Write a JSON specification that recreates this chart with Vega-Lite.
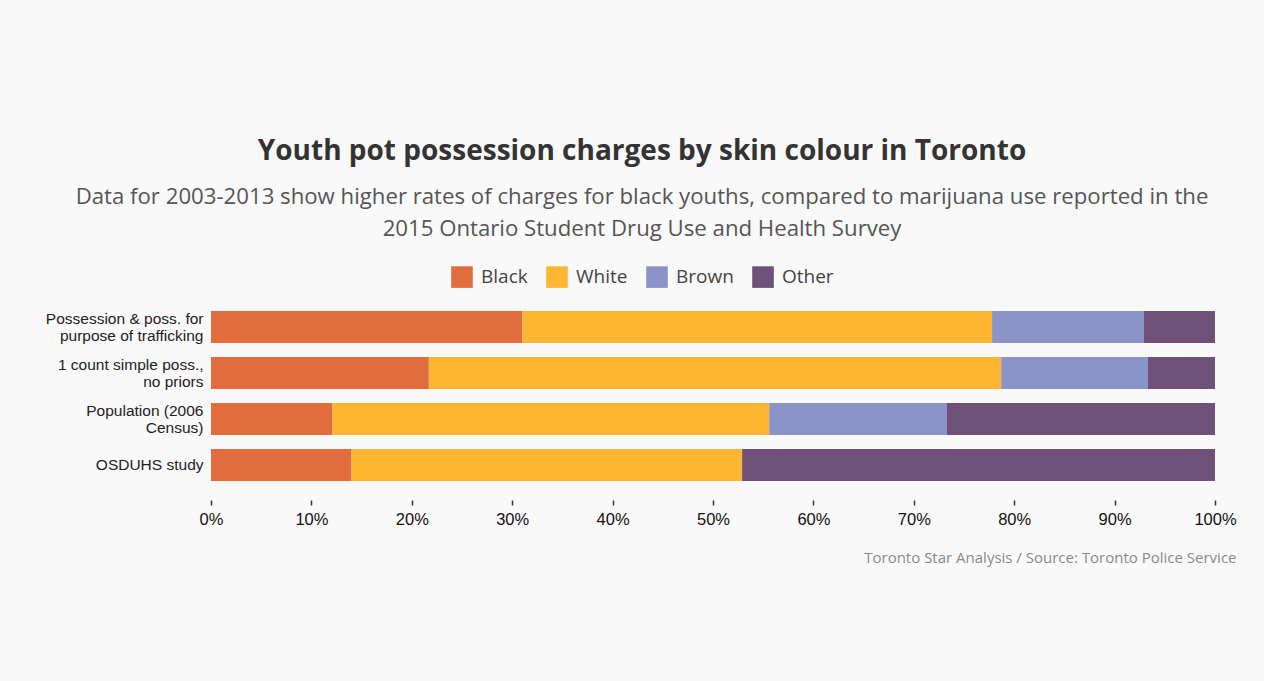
{
  "$schema": "https://vega.github.io/schema/vega-lite/v6.json",
  "width": 1004,
  "height": 184,
  "autosize": {"type": "none"},
  "padding": {"left": 211, "top": 304, "right": 49, "bottom": 193},
  "background": "#f9f9f9",
  "title": {
    "text": "Youth pot possession charges by skin colour in Toronto",
    "subtitle": ["Data for 2003-2013 show higher rates of charges for black youths, compared to marijuana use reported in the", "2015 Ontario Student Drug Use and Health Survey"],
    "anchor": "middle",
    "frame": "group",
    "dx": -71,
    "offset": 26,
    "font": "Open Sans",
    "fontSize": 28,
    "fontWeight": "bold",
    "color": "#333333",
    "subtitleFont": "Open Sans",
    "subtitleFontSize": 22.2,
    "subtitleColor": "#555555",
    "subtitleLineHeight": 32,
    "subtitlePadding": 20
  },
  "data": {
    "values": [
      {"category": "Possession & poss. for\npurpose of trafficking", "group": "Black", "order": 1, "pct": 31.0},
      {"category": "Possession & poss. for\npurpose of trafficking", "group": "White", "order": 2, "pct": 46.8},
      {"category": "Possession & poss. for\npurpose of trafficking", "group": "Brown", "order": 3, "pct": 15.1},
      {"category": "Possession & poss. for\npurpose of trafficking", "group": "Other", "order": 4, "pct": 7.1},
      {"category": "1 count simple poss.,\nno priors", "group": "Black", "order": 1, "pct": 21.7},
      {"category": "1 count simple poss.,\nno priors", "group": "White", "order": 2, "pct": 57.0},
      {"category": "1 count simple poss.,\nno priors", "group": "Brown", "order": 3, "pct": 14.6},
      {"category": "1 count simple poss.,\nno priors", "group": "Other", "order": 4, "pct": 6.7},
      {"category": "Population (2006\nCensus)", "group": "Black", "order": 1, "pct": 12.1},
      {"category": "Population (2006\nCensus)", "group": "White", "order": 2, "pct": 43.5},
      {"category": "Population (2006\nCensus)", "group": "Brown", "order": 3, "pct": 17.7},
      {"category": "Population (2006\nCensus)", "group": "Other", "order": 4, "pct": 26.7},
      {"category": "OSDUHS study", "group": "Black", "order": 1, "pct": 14.0},
      {"category": "OSDUHS study", "group": "White", "order": 2, "pct": 38.9},
      {"category": "OSDUHS study", "group": "Other", "order": 4, "pct": 47.1}
    ]
  },
  "mark": {"type": "bar"},
  "encoding": {
    "y": {
      "field": "category",
      "type": "nominal",
      "sort": null,
      "scale": {"paddingInner": 0.3, "paddingOuter": 0.15},
      "axis": {
        "title": null,
        "domain": false,
        "ticks": false,
        "labelPadding": 8,
        "labelFont": "Liberation Sans",
        "labelFontSize": 15.5,
        "labelColor": "#222222",
        "labelLineHeight": 17,
        "labelLimit": 300,
        "labelOffset": {"condition": {"test": "indexof(datum.value, '\\n') >= 0", "value": -8.5}, "value": 0},
        "labelExpr": "split(datum.label, '\\n')"
      }
    },
    "x": {
      "field": "pct",
      "type": "quantitative",
      "stack": "zero",
      "scale": {"domain": [0, 100], "nice": false},
      "axis": {
        "values": [0, 10, 20, 30, 40, 50, 60, 70, 80, 90, 100],
        "labelExpr": "datum.value + '%'",
        "domain": false,
        "grid": false,
        "offset": 12,
        "tickSize": 5,
        "tickWidth": 1.5,
        "tickColor": "#333333",
        "labelPadding": 6,
        "labelFont": "Liberation Sans",
        "labelFontSize": 16.5,
        "labelColor": "#111111",
        "labelFlush": false,
        "title": "Toronto Star Analysis / Source: Toronto Police Service",
        "titleFont": "Open Sans",
        "titleFontSize": 15,
        "titleFontWeight": "normal",
        "titleColor": "#8a8a8a",
        "titleAnchor": "end",
        "titleAlign": "right",
        "titleBaseline": "alphabetic",
        "titleX": 1025,
        "titleY": 62
      }
    },
    "color": {
      "field": "group",
      "type": "nominal",
      "sort": ["Black", "White", "Brown", "Other"],
      "scale": {
        "domain": ["Black", "White", "Brown", "Other"],
        "range": ["#E16D3E", "#FEB532", "#8A94C9", "#6E5079"]
      },
      "legend": {
        "title": null,
        "orient": "none",
        "direction": "horizontal",
        "legendX": 240,
        "legendY": -38,
        "symbolType": "square",
        "symbolSize": 466,
        "symbolStrokeWidth": 0,
        "symbolOpacity": 1,
        "labelOffset": 8,
        "columnPadding": 18,
        "labelFont": "Open Sans",
        "labelFontSize": 19,
        "labelColor": "#444444"
      }
    },
    "order": {"field": "order", "type": "quantitative"}
  },
  "config": {
    "view": {"stroke": null}
  }
}
